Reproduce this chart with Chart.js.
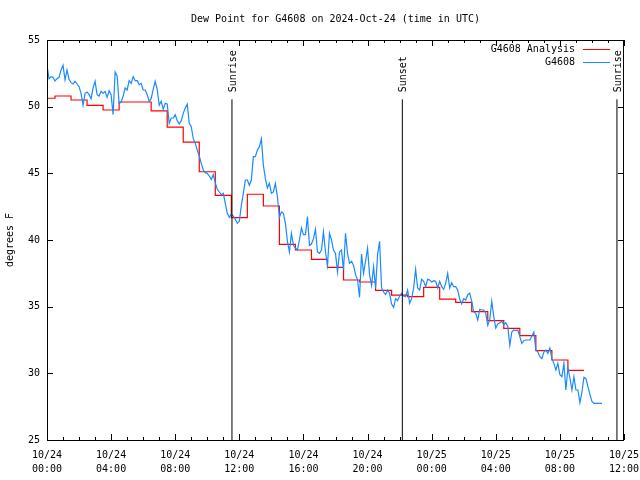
<!DOCTYPE html>
<html>
<head>
<meta charset="utf-8">
<script src="https://cdn.jsdelivr.net/npm/chart.js@4.4.0/dist/chart.umd.min.js"></script>
<style>
html, body { margin: 0; padding: 0; background: #fff; }
#wrap { width: 640px; height: 480px; }
</style>
</head>
<body>
<div id="wrap"><canvas id="chart" width="640" height="480"></canvas></div>
<script>
const titulo = "Dew Point for G4608 on 2024-Oct-24 (time in UTC)";
const tituloY = "degrees F";

// eje x en horas desde 10/24 00:00 UTC
const tickLabels = [
    ["10/24", "00:00"], ["10/24", "04:00"], ["10/24", "08:00"], ["10/24", "12:00"],
    ["10/24", "16:00"], ["10/24", "20:00"], ["10/25", "00:00"], ["10/25", "04:00"],
    ["10/25", "08:00"], ["10/25", "12:00"]
];

// analisis horario (h = 0..33)
const analysisValues = [
    50.63, 50.8, 50.5, 50.1, 49.75, 50.35, 50.35, 49.68,
    48.47, 47.34, 45.12, 43.35, 41.68, 43.43, 42.55, 39.67,
    39.25, 38.55, 37.95, 37.0, 36.85, 36.22, 35.87, 35.75,
    36.44, 35.56, 35.32, 34.63, 33.95, 33.37, 32.83, 31.7,
    31.0, 30.22
];
const analysisEnd = 33.5;

// observaciones cada 7.5 minutos
const obsStep = 0.125;
const obsValues = [
    53.1, 52.1, 52.25, 52.2, 51.93, 52.1, 52.2, 52.75,
    53.1, 52.0, 52.75, 52.05, 51.8, 51.7, 51.9, 51.7,
    51.5, 51.0, 50.1, 51.0, 51.1, 50.9, 50.6, 51.4,
    51.9, 50.9, 50.8, 51.15, 51.0, 51.15, 50.7, 51.2,
    50.9, 49.4, 52.6, 52.3, 50.25, 50.35, 50.8, 51.4,
    51.25, 51.95, 51.75, 52.25, 51.95, 51.95, 51.65, 51.75,
    51.25, 51.25, 50.9, 50.4, 50.6, 51.3, 51.9, 51.3,
    50.1, 50.4, 49.8, 50.25, 50.2, 48.75, 49.15, 49.15,
    49.4, 48.95, 48.7, 48.95, 49.5, 49.9, 50.2, 48.75,
    48.5, 47.6, 47.25, 46.75, 46.3, 45.75, 45.25, 45.05,
    45.0, 44.8, 44.55, 44.9, 44.3, 43.8, 43.6, 43.4,
    43.5, 42.75, 42.0, 41.7, 41.95, 41.8, 41.55, 41.25,
    41.4, 42.6, 43.5, 44.5, 44.5, 44.1, 44.5, 46.25,
    46.25, 46.75, 47.0, 47.6, 45.6, 44.6, 43.9, 44.25,
    43.5, 43.6, 44.25, 43.25, 41.7, 42.1, 42.0, 41.25,
    39.9, 39.1, 40.5, 39.6, 39.4, 39.25, 40.0, 40.9,
    40.4, 40.4, 41.75, 39.6, 39.7, 40.1, 40.8, 39.1,
    39.0, 39.25, 40.6, 39.1, 38.1, 40.5, 40.0, 39.25,
    39.0, 37.6, 39.1, 39.25, 37.75, 40.5, 39.0, 38.25,
    38.4, 38.1, 37.4, 37.0, 35.7, 38.95, 37.5, 38.4,
    39.4, 37.4, 36.6, 38.0, 36.4, 38.9, 39.9, 36.4,
    36.1, 35.9, 36.25, 36.0, 35.2, 34.95, 35.6, 35.45,
    35.8, 36.0, 35.8, 35.75, 36.25, 35.25, 35.6, 36.4,
    37.8, 36.4, 36.25, 37.05, 36.9, 36.5, 37.05, 37.0,
    36.85, 36.95, 36.9, 36.4, 36.9, 36.5, 36.3, 36.75,
    37.5, 36.4, 36.8, 36.5, 36.5, 36.25, 35.55, 35.2,
    35.6, 35.5, 35.9, 36.0, 35.4, 34.6, 34.5, 34.0,
    34.8, 34.75, 34.75, 34.5, 33.6, 34.05, 35.4, 34.25,
    33.4, 33.7, 33.8, 33.9, 33.65, 33.8, 33.5, 32.1,
    33.1, 33.25, 33.2, 33.25, 32.75, 32.25, 32.45, 32.5,
    32.5, 32.5, 32.8, 33.1, 31.75, 31.6, 31.25, 31.1,
    31.6, 31.75, 31.5, 31.9, 31.1, 30.75, 30.25, 30.75,
    29.9, 29.75, 30.75, 28.75, 30.4, 29.65, 28.75, 29.75,
    28.75, 28.75, 27.8, 28.6, 29.7, 29.6, 29.0, 28.4,
    27.9, 27.75, 27.75, 27.75, 27.75, 27.75
];

// salida / puesta del sol (horas)
const sunTimes = [11.54, 22.17, 35.56];
const sunLabels = ["Sunrise", "Sunset", "Sunrise"];
const sunLineTop = 50.55;

const legendNames = ["G4608 Analysis", "G4608"];
const colores = ["#ff0000", "#1a8aff"];
const fuente = "'DejaVu Sans Mono', 'Liberation Mono', monospace";

const datasets = [
    {
        label: legendNames[0],
        data: analysisValues.map((v, i) => ({ x: i, y: v }))
            .concat([{ x: analysisEnd, y: analysisValues[analysisValues.length - 1] }]),
        borderColor: colores[0],
        borderWidth: 1.2,
        stepped: 'middle',
        pointRadius: 0,
        order: 2
    },
    {
        label: legendNames[1],
        data: obsValues.map((v, i) => ({ x: i * obsStep, y: v })),
        borderColor: colores[1],
        borderWidth: 1.2,
        tension: 0,
        pointRadius: 0,
        order: 1
    }
];
sunTimes.forEach((t, i) => {
    datasets.push({
        label: sunLabels[i],
        data: [{ x: t, y: 25 }, { x: t, y: sunLineTop }],
        borderColor: "#000",
        borderWidth: 1,
        pointRadius: 0,
        order: 0
    });
});

const decoraciones = {
    id: 'decoraciones',
    afterDraw(chart) {
        const { ctx, chartArea: a, scales: { x, y } } = chart;
        ctx.save();
        ctx.strokeStyle = "#000";
        ctx.fillStyle = "#000";
        ctx.lineWidth = 1;

        // marco
        ctx.strokeRect(a.left + 0.5, a.top + 0.5, a.right - a.left - 1, a.bottom - a.top);

        // marcas del eje x (hacia dentro, espejo arriba)
        ctx.beginPath();
        for (let h = 0; h <= 36; h++) {
            const px = Math.round(x.getPixelForValue(h)) + 0.5;
            const len = h % 4 === 0 ? 6 : 3;
            ctx.moveTo(px, a.bottom);
            ctx.lineTo(px, a.bottom - len);
            ctx.moveTo(px, a.top);
            ctx.lineTo(px, a.top + len);
        }
        for (let v = 25; v <= 55; v += 5) {
            const py = Math.round(y.getPixelForValue(v)) + 0.5;
            ctx.moveTo(a.left, py);
            ctx.lineTo(a.left + 6, py);
            ctx.moveTo(a.right, py);
            ctx.lineTo(a.right - 6, py);
        }
        ctx.stroke();

        ctx.font = "10px " + fuente;

        // titulo
        ctx.textAlign = "center";
        ctx.textBaseline = "middle";
        ctx.fillText(titulo, (a.left + a.right) / 2, 19);

        // titulo eje y
        ctx.save();
        ctx.translate(10, (a.top + a.bottom) / 2);
        ctx.rotate(-Math.PI / 2);
        ctx.fillText(tituloY, 0, 0);
        ctx.restore();

        // etiquetas sol
        sunTimes.forEach((t, i) => {
            const px = x.getPixelForValue(t);
            ctx.save();
            ctx.translate(px + 1, y.getPixelForValue(sunLineTop) - 7);
            ctx.rotate(-Math.PI / 2);
            ctx.textAlign = "left";
            ctx.fillText(sunLabels[i], 0, 0);
            ctx.restore();
        });

        // leyenda
        legendNames.forEach((name, i) => {
            const ly = a.top + 9 + i * 13;
            ctx.textAlign = "right";
            ctx.fillStyle = "#000";
            ctx.fillText(name, a.right - 49, ly);
            ctx.strokeStyle = colores[i];
            ctx.beginPath();
            ctx.moveTo(a.right - 41, Math.round(ly) + 0.5);
            ctx.lineTo(a.right - 14, Math.round(ly) + 0.5);
            ctx.stroke();
        });
        ctx.restore();
    }
};

new Chart(document.getElementById("chart").getContext("2d"), {
    type: 'line',
    data: { datasets: datasets },
    options: {
        responsive: false,
        animation: false,
        layout: { padding: { left: 0, right: 16, top: 40, bottom: 0 } },
        scales: {
            x: {
                type: 'linear',
                min: 0,
                max: 36,
                afterFit: (scale) => {
                    scale.height = 40;
                    scale.paddingLeft = 0;
                    scale.paddingRight = 0;
                },
                grid: { display: false, drawTicks: false },
                border: { display: false },
                ticks: {
                    stepSize: 4,
                    autoSkip: false,
                    maxRotation: 0,
                    padding: 8,
                    color: "#000",
                    font: { family: fuente, size: 10, lineHeight: 1.4 },
                    callback: (value) => tickLabels[Math.round(value / 4)]
                }
            },
            y: {
                min: 25,
                max: 55,
                afterFit: (scale) => {
                    scale.width = 47;
                    scale.paddingTop = 0;
                    scale.paddingBottom = 0;
                },
                grid: { display: false, drawTicks: false },
                border: { display: false },
                ticks: {
                    stepSize: 5,
                    padding: 7,
                    color: "#000",
                    font: { family: fuente, size: 10 }
                }
            }
        },
        plugins: {
            legend: { display: false },
            tooltip: { enabled: false }
        }
    },
    plugins: [decoraciones]
});
</script>
</body>
</html>
